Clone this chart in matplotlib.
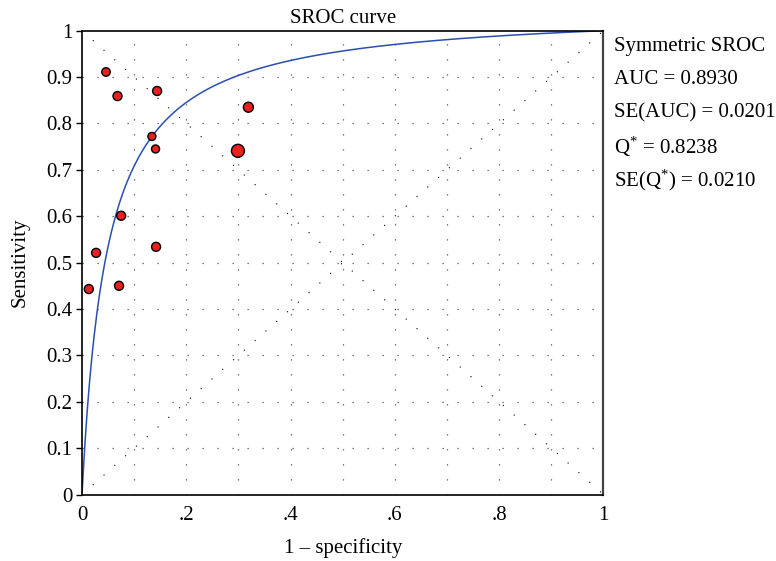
import numpy as np
import matplotlib
matplotlib.use("Agg")
import matplotlib.pyplot as plt

# Study points (1 - specificity, sensitivity) and marker diameters (weights)
fpr = [0.046, 0.068, 0.144, 0.319, 0.134, 0.141, 0.299, 0.075, 0.027, 0.142, 0.013, 0.071]
sens = [0.911, 0.859, 0.870, 0.835, 0.772, 0.745, 0.741, 0.601, 0.521, 0.534, 0.443, 0.450]
weight = [8.5, 9, 9, 10, 8, 8, 13, 9, 9, 9, 9, 9]

# Summary statistics
q_star = 0.8238
stats_lines = ["Symmetric SROC", "AUC = 0.8930", "SE(AUC) = 0.0201",
               "Q$^{*}$ = 0.8238", "SE(Q$^{*}$) = 0.0210"]
x_ticks = [0, 0.2, 0.4, 0.6, 0.8, 1.0]
x_ticklabels = ["0", ".2", ".4", ".6", ".8", "1"]
y_ticks = [0, 0.1, 0.2, 0.3, 0.4, 0.5, 0.6, 0.7, 0.8, 0.9, 1.0]
y_ticklabels = ["0", "0.1", "0.2", "0.3", "0.4", "0.5", "0.6", "0.7", "0.8", "0.9", "1"]

plt.rcParams['font.family'] = ['Liberation Serif', 'DejaVu Serif']
plt.rcParams['mathtext.default'] = 'regular'
plt.rcParams['mathtext.fontset'] = 'custom'
plt.rcParams['mathtext.rm'] = 'Liberation Serif'

FS = 15

fig = plt.figure(figsize=(7.76, 5.61), dpi=100)
ax = fig.add_axes([0.1057, 0.1185, 0.672, 0.8268])

# grid
grid_vals = np.arange(1, 10) / 10
for g in grid_vals:
    ax.plot([g, g], [0, 1], color='#555555', lw=0.9, linestyle=(0, (1, 11)), zorder=1)
    ax.plot([0, 1], [g, g], color='#555555', lw=0.9, linestyle=(0, (1, 11)), zorder=1)
# diagonals
ax.plot([0, 1], [0, 1], color='black', lw=0.8, linestyle=(0, (1, 12)), zorder=1)
ax.plot([0, 1], [1, 0], color='black', lw=0.8, linestyle=(0, (1, 12)), zorder=1)

# SROC curve: logit(TPR) = a + logit(FPR), a = 2*logit(Q*)
a = 2 * np.log(q_star / (1 - q_star))
xc = np.concatenate([np.linspace(0, 0.02, 400), np.linspace(0.02, 1, 600)])
with np.errstate(divide='ignore', invalid='ignore'):
    odds = np.exp(a) * xc / (1 - xc)
    yc = odds / (1 + odds)
yc[-1] = 1.0
ax.plot(xc, yc, color='#2a4fb0', lw=1.1, zorder=2)

sizes = [(d * 0.72) ** 2 for d in weight]
ax.scatter(fpr, sens, s=sizes, facecolor='#e8201e', edgecolor='black', linewidth=1.0, zorder=3)

ax.set_xlim(0, 1)
ax.set_ylim(0, 1)
ax.set_xticks(x_ticks)
ax.set_xticklabels(x_ticklabels, fontsize=FS)
ax.set_yticks(y_ticks)
ax.set_yticklabels(y_ticklabels, fontsize=FS)
ax.tick_params(axis='x', length=0, pad=8.5)
ax.tick_params(axis='y', length=4, width=1, direction='out', pad=3)
for s in ax.spines.values():
    s.set_linewidth(1.2)
    s.set_color('black')
ax.spines['right'].set_color('#444444')
ax.spines['right'].set_linewidth(1.6)

ax.set_title("SROC curve", fontsize=FS, pad=5.5)
ax.set_xlabel("1 \u2013 specificity", fontsize=FS, labelpad=9.5)
ax.set_ylabel("Sensitivity", fontsize=FS, labelpad=12)

y_px = [47, 79, 113, 147, 180]
for txt, yp in zip(stats_lines, y_px):
    fig.text(614 / 776, 1 - yp / 561, txt, fontsize=FS, va='center', ha='left')

fig.savefig("out.png", dpi=100)
